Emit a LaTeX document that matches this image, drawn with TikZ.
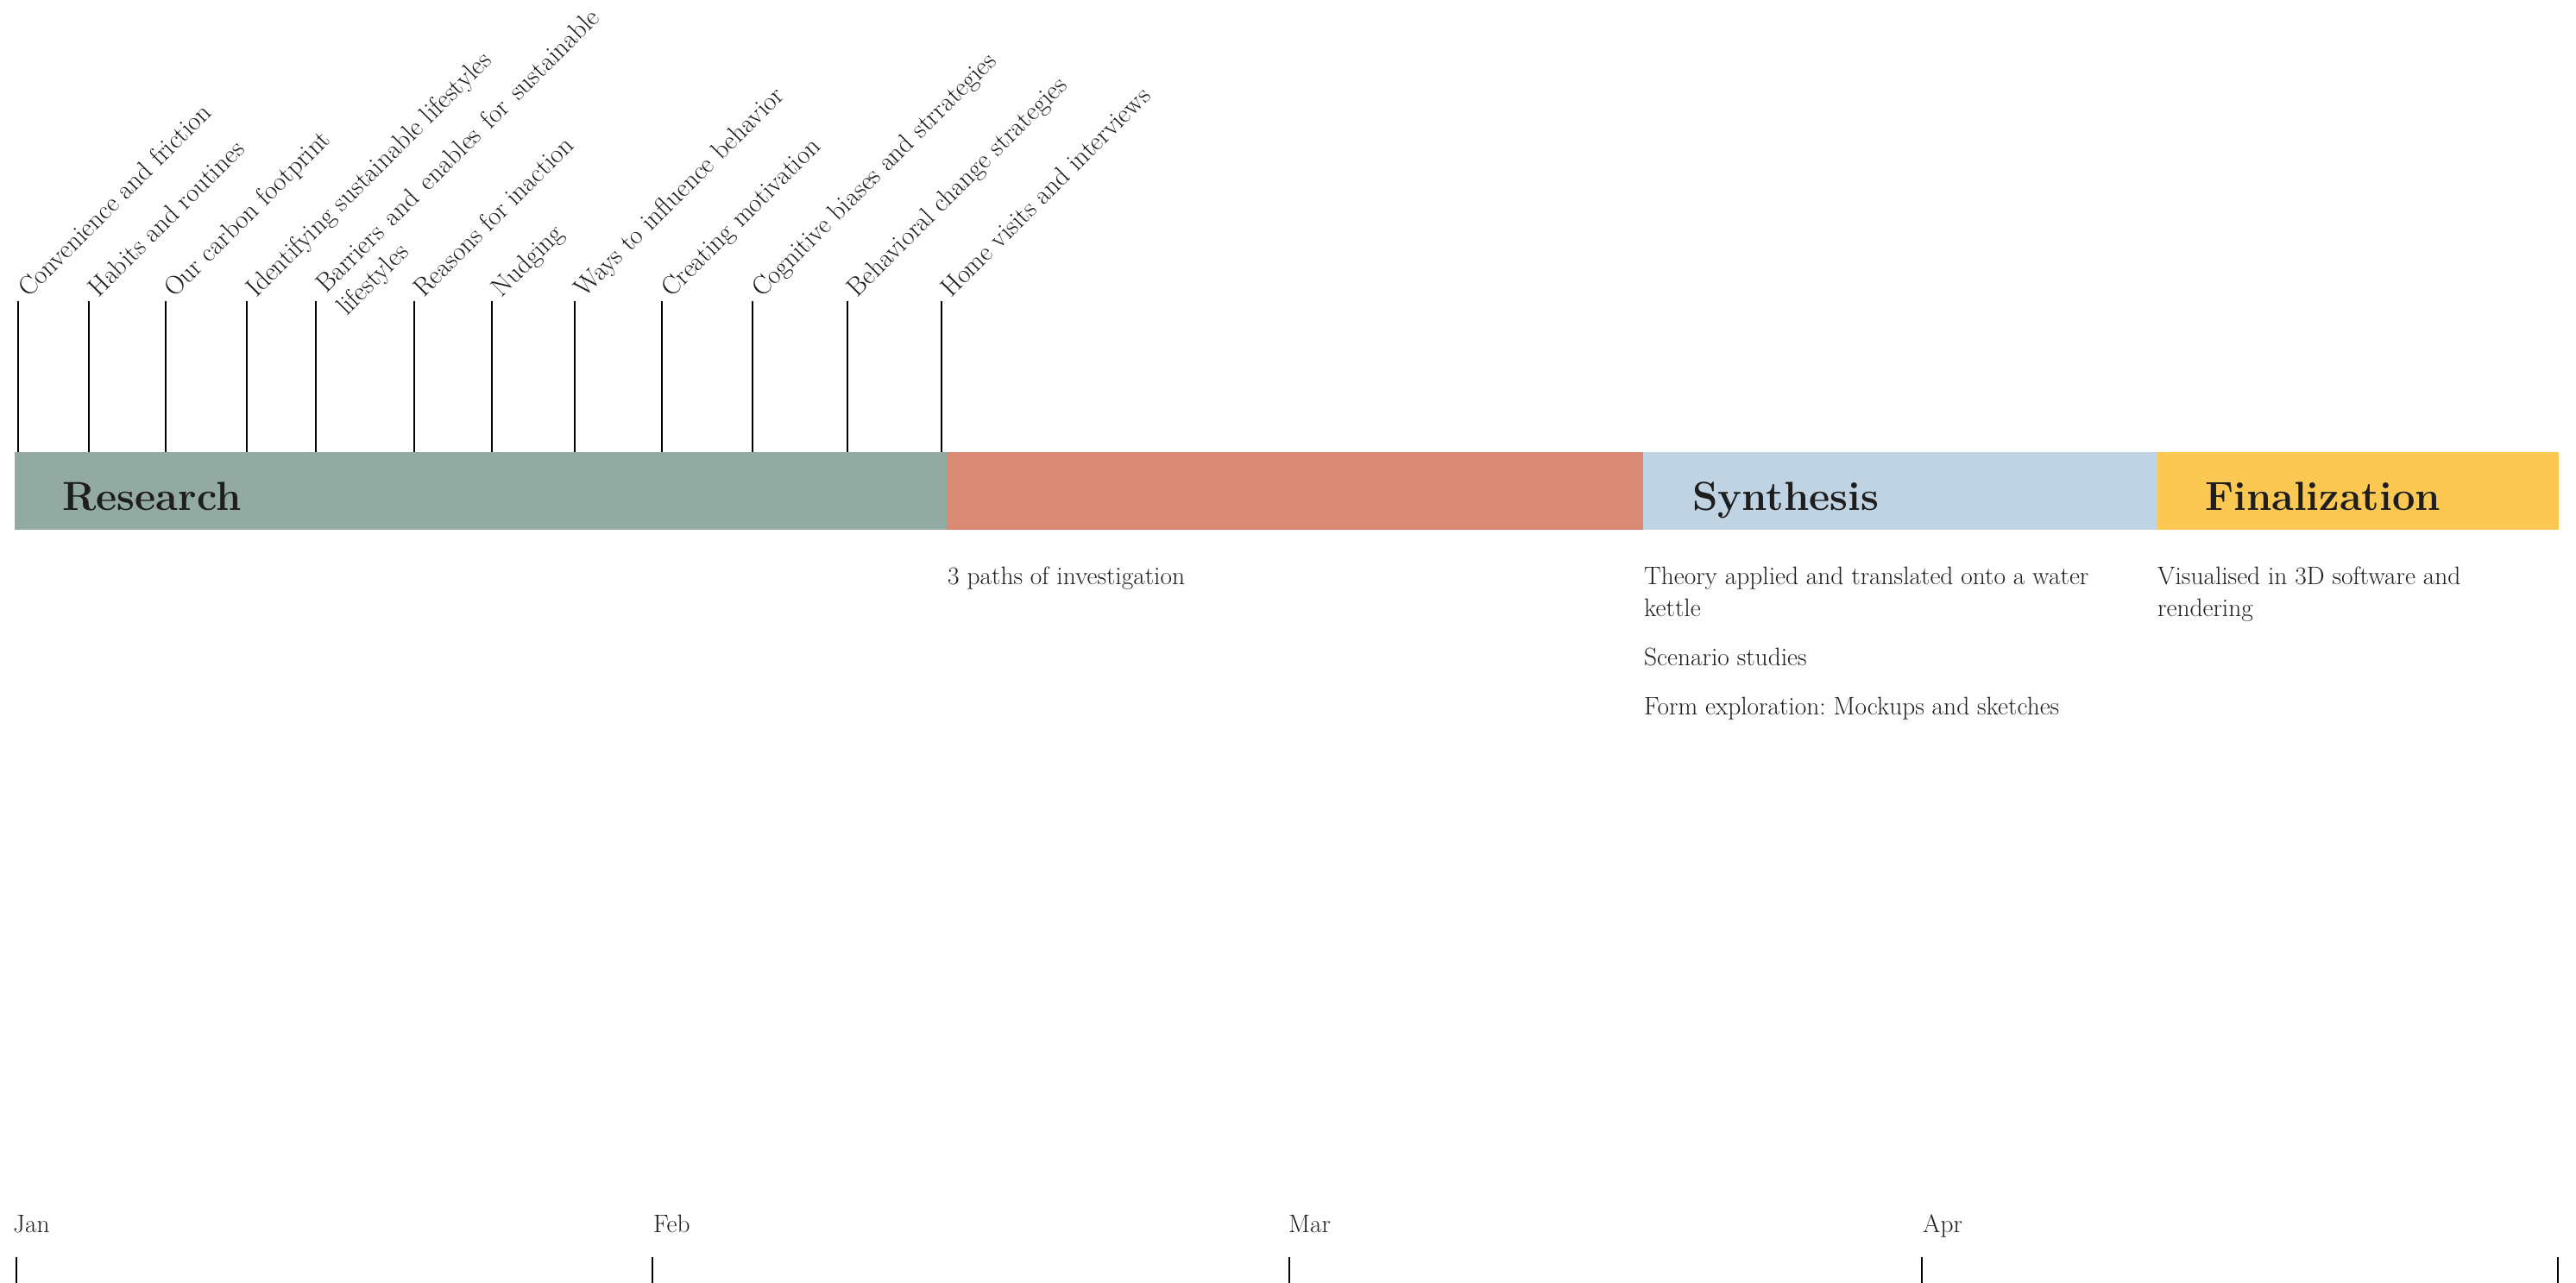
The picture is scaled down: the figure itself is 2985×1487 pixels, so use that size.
\documentclass[tikz,border=0pt]{standalone}
\usepackage{fontspec}
\frenchspacing
\definecolor{resgreen}{HTML}{93AAA2}
\definecolor{salmon}{HTML}{DA8A74}
\definecolor{paleblue}{HTML}{BFD3E2}
\definecolor{sunyellow}{HTML}{FBC853}
\definecolor{ink}{HTML}{1E1E1E}
\begin{document}
\begin{tikzpicture}[x=1pt,y=-1pt,
  lbl/.style={anchor=base west, inner sep=0pt, rotate=45, font=\fontsize{30.5}{38}\selectfont, text=ink},
  tickline/.style={line width=2.6pt, draw=black},
  monthtick/.style={line width=2pt, draw=black},
  phase/.style={anchor=base west, inner sep=0pt, font=\fontsize{47}{52}\selectfont\bfseries, text=ink},
  body/.style={anchor=base west, inner sep=0pt, align=left, font=\fontsize{29.4}{37}\selectfont, text=ink},
  month/.style={anchor=base west, inner sep=0pt, font=\fontsize{29.4}{37}\selectfont, text=ink},
]
\useasboundingbox (0,0) rectangle (2985,1487);
\fill[white] (0,0) rectangle (2985,1487);

% phase bars
\fill[resgreen] (17,524) rectangle (1097,614);
\fill[salmon] (1097,524) rectangle (1904,614);
\fill[paleblue] (1904,524) rectangle (2500,614);
\fill[sunyellow] (2500,524) rectangle (2965,614);

\node[phase] (research) at (72,591) {Research};
\node[phase] (synthesis) at (1961,591) {Synthesis};
\node[phase] (final) at (2555,591) {Finalization};

% research topic ticks
\foreach \x [count=\i] in {21,103,192,286,366,480,570,666,767,872,982,1091}{
  \coordinate (tt\i) at (\x,349);
  \coordinate (tb\i) at (\x,524);
  \draw[tickline] (tt\i) -- (tb\i);
}

\node[lbl] (l1) at (33,346) {Convenience and friction};
\node[lbl] (l2) at (114,346) {Habits and routines};
\node[lbl] (l3) at (202,346) {Our carbon footprint};
\node[lbl] (l4) at (297,346) {Identifying sustainable lifestyles};
\node[lbl] (l5) at (378,341) {Barriers\hspace{0.42em}and\hspace{0.42em}enables\hspace{0.42em}for\hspace{0.42em}sustainable};
\node[lbl] (l5b) at (402,367) {lifestyles};
\node[lbl] (l6) at (491,346) {Reasons for inaction};
\node[lbl] (l7) at (581,346) {Nudging};
\node[lbl] (l8) at (677,346) {Ways to influence behavior};
\node[lbl] (l9) at (778,346) {Creating motivation};
\node[lbl] (l10) at (883,346) {Cognitive biases and strrategies};
\node[lbl] (l11) at (993,346) {Behavioral change strategies};
\node[lbl] (l12) at (1102,346) {Home visits and interviews};

% phase descriptions
\node[body] (d1) at (1098,677) {3 paths of investigation};
\node[body] (d2) at (1905,714) {Theory applied and translated onto a water\\kettle};
\node[body] (d3) at (1905,771) {Scenario studies};
\node[body] (d4) at (1905,828) {Form exploration: Mockups and sketches};
\node[body] (d5) at (2500,714) {Visualised in 3D software and\\rendering};

% months
\node[month] (jan) at (15,1428) {Jan};
\node[month] (feb) at (757,1428) {Feb};
\node[month] (mar) at (1493,1428) {Mar};
\node[month] (apr) at (2228,1428) {Apr};
\foreach \x [count=\i] in {19,756,1494,2227,2964}{
  \coordinate (mt\i) at (\x,1457);
  \coordinate (mb\i) at (\x,1487);
  \draw[monthtick] (mt\i) -- (mb\i);
}
\end{tikzpicture}
\end{document}
